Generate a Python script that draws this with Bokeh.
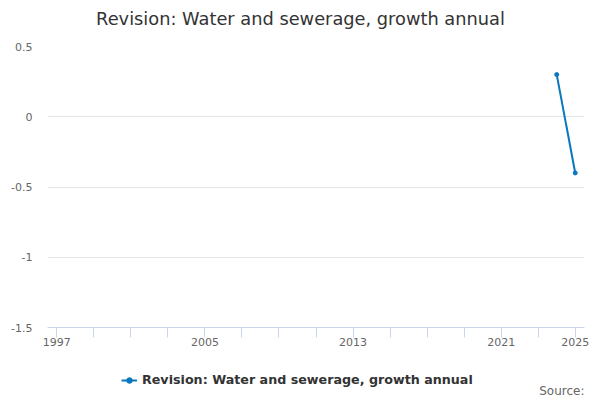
import numpy as np
from bokeh.plotting import figure
from bokeh.layouts import column
from bokeh.models import FixedTicker, Legend, LegendItem, Range1d, ColumnDataSource, Label
from bokeh.embed import file_html
from bokeh.resources import INLINE

# Data
years = list(range(1997, 2026))
values = [np.nan] * 27 + [0.3, -0.4]
series_name = "Revision: Water and sewerage, growth annual"
title_text = "Revision: Water and sewerage, growth annual"
source_text = "Source:"

x_ticks = list(range(1997, 2026, 2))
x_tick_labels_shown = [1997, 2005, 2013, 2021, 2025]
y_ticks = [-1.5, -1, -0.5, 0, 0.5]
y_tick_labels = ["-1.5", "-1", "-0.5", "0", "0.5"]

FONT = "DejaVu Sans"
LINE_COLOR = "#0a77bd"

FRAME_LEFT, FRAME_RIGHT = 47, 584


def strip(height):
    # the column aligns this strip's frame with the chart's frame, so map x to page pixels
    f = figure(width=600, height=height, output_backend="svg", toolbar_location=None,
               x_axis_type=None, y_axis_type=None,
               x_range=Range1d(FRAME_LEFT, FRAME_RIGHT), y_range=Range1d(0, height), min_border=0)
    f.outline_line_color = None
    f.grid.visible = False
    f.border_fill_color = "white"
    f.background_fill_color = "white"
    return f


# Title strip
t = strip(36)
t.add_layout(Label(x=300, y=18, text=title_text, text_font=FONT, text_font_size="17.8px",
                   text_color="#333333", text_align="center", text_baseline="middle"))

# Main chart
p = figure(frame_width=FRAME_RIGHT - FRAME_LEFT, frame_height=281,
           output_backend="svg", toolbar_location=None,
           x_range=Range1d(1996.5, 2025.5), y_range=Range1d(-1.5, 0.5),
           min_border_left=FRAME_LEFT, min_border_right=16, min_border_top=10, min_border_bottom=28)
p.outline_line_color = None
p.background_fill_color = "white"
p.border_fill_color = "white"

src = ColumnDataSource(dict(x=years, y=values))
r_line = p.line("x", "y", source=src, line_color=LINE_COLOR, line_width=2)
r_pts = p.scatter("x", "y", source=src, size=4, fill_color=LINE_COLOR, line_color=LINE_COLOR)

# x axis
p.xaxis.ticker = FixedTicker(ticks=x_ticks)
p.xaxis.major_label_overrides = {t_: (str(t_) if t_ in x_tick_labels_shown else "") for t_ in x_ticks}
p.xaxis.axis_line_color = "#ccd6eb"
p.xaxis.major_tick_line_color = "#ccd6eb"
p.xaxis.major_tick_out = 10
p.xaxis.major_tick_in = 0
p.xaxis.minor_tick_line_color = None
p.xaxis.major_label_standoff = 0
p.xaxis.major_label_text_font = FONT
p.xaxis.major_label_text_font_size = "11px"
p.xaxis.major_label_text_color = "#666666"
p.xgrid.grid_line_color = None

# y axis
p.yaxis.ticker = FixedTicker(ticks=y_ticks)
p.yaxis.major_label_overrides = {t_: l for t_, l in zip(y_ticks, y_tick_labels)}
p.yaxis.axis_line_color = None
p.yaxis.major_tick_line_color = None
p.yaxis.minor_tick_line_color = None
p.yaxis.major_tick_out = 0
p.yaxis.major_label_standoff = 15
p.yaxis.major_label_text_font = FONT
p.yaxis.major_label_text_font_size = "11px"
p.yaxis.major_label_text_color = "#666666"
p.ygrid.grid_line_color = "#e6e6e6"
p.ygrid.ticker = FixedTicker(ticks=y_ticks)

# Legend / source strip (same series source; its points fall outside this strip's range)
q = strip(45)
l_line = q.line("x", "y", source=src, line_color=LINE_COLOR, line_width=2)
l_pts = q.scatter("x", "y", source=src, size=4, fill_color=LINE_COLOR, line_color=LINE_COLOR)

legend = Legend(items=[LegendItem(label=series_name, renderers=[l_line, l_pts], index=27)],
                location=(74, 13), orientation="horizontal",
                label_text_font=FONT, label_text_font_size="12.7px", label_text_font_style="bold",
                label_text_color="#333333", border_line_color=None, background_fill_alpha=0,
                glyph_width=16, glyph_height=14, label_standoff=5, margin=0, padding=4)
q.add_layout(legend, "center")

q.add_layout(Label(x=FRAME_RIGHT, y=10, text=source_text,
                   text_font=FONT, text_font_size="12px", text_color="#666666",
                   text_align="right", text_baseline="middle"))

layout = column(t, p, q, spacing=0)
open("out.html", "w").write(file_html(layout, INLINE))
